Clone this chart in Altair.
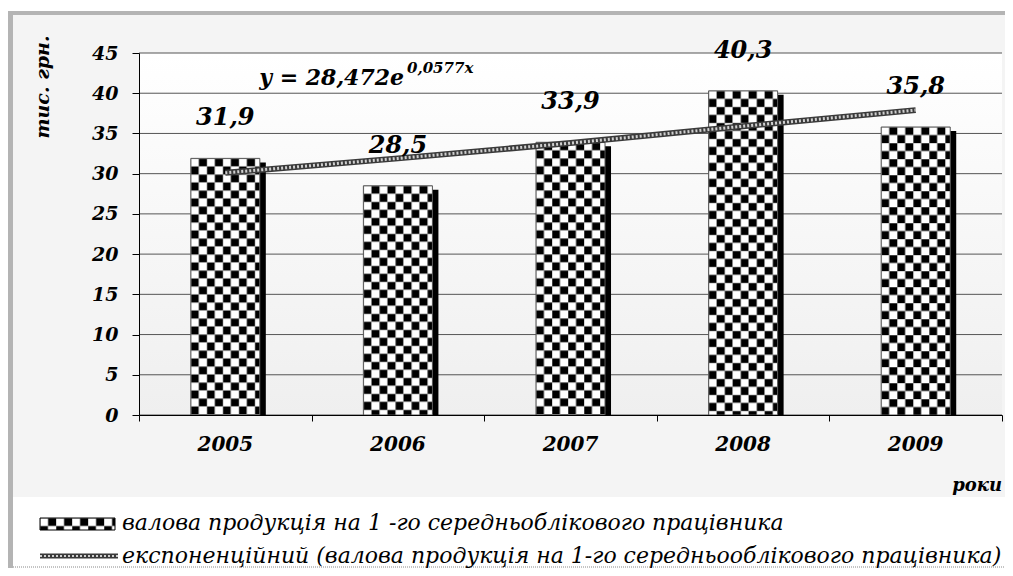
import altair as alt
import pandas as pd
import base64

# ---------------- data ----------------
years = ["2005", "2006", "2007", "2008", "2009"]
values = [31.9, 28.5, 33.9, 40.3, 35.8]
value_labels = ["31,9", "28,5", "33,9", "40,3", "35,8"]
trend_values = [30.1, 31.9, 33.8, 35.9, 37.9]
y_ticks = [0, 5, 10, 15, 20, 25, 30, 35, 40, 45]
x_bounds = [0, 1, 2, 3, 4, 5]

legend_bar = "валова продукція на 1 -го середньоблікового працівника"
legend_trend = "експоненційний (валова продукція на 1-го середньооблікового працівника)"
y_title = "тис. грн."
x_title = "роки"
eq_main = "y = 28,472e"
eq_sup = "0,0577x"

df = pd.DataFrame({
    "idx": list(range(len(years))),
    "year": years,
    "value": values,
    "label": value_labels,
    "trend": trend_values,
})
ticks_df = pd.DataFrame({"tick": y_ticks})
one = pd.DataFrame({"k": [0]})

# ---------------- layout ----------------
W, H = 863, 362
FONT = "DejaVu Serif"

checker_svg = (
    "<svg xmlns='http://www.w3.org/2000/svg' width='100%' height='100%'>"
    "<defs><pattern id='p' x='0' y='0' width='16' height='16' patternUnits='userSpaceOnUse'>"
    "<rect width='16' height='16' fill='#ffffff'/>"
    "<rect x='8' y='0' width='8' height='8' fill='#000000'/>"
    "<rect x='0' y='8' width='8' height='8' fill='#000000'/>"
    "<path d='M0 0H16M0 8H16M0 0V16M8 0V16' stroke='#9a9a9a' stroke-width='0.8'/>"
    "</pattern></defs>"
    "<rect width='100%' height='100%' fill='url(#p)'/></svg>"
)
checker_uri = "data:image/svg+xml;base64," + base64.b64encode(checker_svg.encode("utf-8")).decode("ascii")

xscale = alt.Scale(domain=[0, 5], nice=False, zero=False)
yscale = alt.Scale(domain=[0, 45], nice=False, zero=True)
xaxis = alt.Axis(values=x_bounds, labels=False, title=None, grid=False, tickSize=6,
                 domainColor="black", tickColor="black", domainWidth=1, tickWidth=1, zindex=1)
yaxis = alt.Axis(values=y_ticks, title=None, grid=False, tickSize=7, domainColor="black",
                 tickColor="black", labelFont=FONT, labelFontSize=19, labelFontWeight="bold",
                 labelFontStyle="italic", labelColor="black", labelPadding=14, zindex=1)


def X(f):
    return alt.X(f, type="quantitative", scale=xscale, axis=xaxis)


def Y(f):
    return alt.Y(f, type="quantitative", scale=yscale, axis=yaxis)


base = alt.Chart(df).transform_calculate(
    pos="datum.idx + 0.5", left="datum.idx + 0.3", right="datum.idx + 0.7"
)

# backgrounds and frame
outer_bg = alt.Chart(one).mark_rect(fill="#f4f4f4").encode(
    x=alt.value(-126), x2=alt.value(W + 4), y=alt.value(-38), y2=alt.value(444))
left_strip = alt.Chart(one).mark_rect(fill="#b4b4b4").encode(
    x=alt.value(-131), x2=alt.value(-126), y=alt.value(-42), y2=alt.value(515))
top_strip = alt.Chart(one).mark_rect(fill="#b4b4b4").encode(
    x=alt.value(-131), x2=alt.value(W + 4), y=alt.value(-42), y2=alt.value(-38))
bottom_line = alt.Chart(one).mark_rule(color="#888888", strokeDash=[1, 1], strokeWidth=1).encode(
    x=alt.value(-126), x2=alt.value(W + 4), y=alt.value(514))
plot_bg = alt.Chart(one).mark_rect(
    fill=alt.Gradient(gradient="linear", x1=0, x2=0, y1=0, y2=1,
                      stops=[alt.GradientStop(color="#ffffff", offset=0),
                             alt.GradientStop(color="#efefef", offset=1)])
).encode(x=alt.value(0), x2=alt.value(W), y=alt.value(0), y2=alt.value(H))

grid = alt.Chart(ticks_df).mark_rule(color="#555555", strokeWidth=1).encode(
    y=Y("tick"), x=alt.value(0), x2=alt.value(W))

# bars
shadow = base.mark_rect(fill="black", xOffset=6, x2Offset=6, yOffset=4).encode(
    x=X("left"), x2="right:Q", y=Y("value"), y2=alt.datum(0))
bar_white = base.mark_rect(fill="white").encode(
    x=X("left"), x2="right:Q", y=Y("value"), y2=alt.datum(0))
bar_img = base.mark_image(aspect=False).encode(
    x=X("left"), x2="right:Q", y=Y("value"), y2=alt.datum(0), url=alt.value(checker_uri))
bar_edge = base.mark_rect(fillOpacity=0, stroke="#555555", strokeWidth=1).encode(
    x=X("left"), x2="right:Q", y=Y("value"), y2=alt.datum(0))

# trend line
trend_dark = base.mark_line(color="#3a3a3a", strokeWidth=6).encode(x=X("pos"), y=Y("trend"))
trend_light = base.mark_line(color="#cfcfcf", strokeWidth=3, strokeDash=[2, 2]).encode(
    x=X("pos"), y=Y("trend"))

# texts
val_text = base.mark_text(font=FONT, fontSize=24, fontWeight="bold", fontStyle="italic",
                          color="black", dy=-40, baseline="middle").encode(
    x=X("pos"), y=Y("value"), text="label:N")

year_text = base.mark_text(font=FONT, fontSize=20, fontWeight="bold", fontStyle="italic",
                           color="black", baseline="middle").encode(
    x=X("pos"), y=alt.value(H + 30), text="year:N")

eq1 = alt.Chart(one).mark_text(font=FONT, fontSize=22, fontWeight="bold", fontStyle="italic",
                               align="right", baseline="alphabetic", color="black").encode(
    x=alt.value(265), y=alt.value(32), text=alt.value(eq_main))
eq2 = alt.Chart(one).mark_text(font=FONT, fontSize=15, fontWeight="bold", fontStyle="italic",
                               align="left", baseline="alphabetic", color="black").encode(
    x=alt.value(268), y=alt.value(20), text=alt.value(eq_sup))

ytitle = alt.Chart(one).mark_text(font=FONT, fontSize=19, fontWeight="bold", fontStyle="italic",
                                  angle=270, align="center", baseline="middle", color="black").encode(
    x=alt.value(-96), y=alt.value(34), text=alt.value(y_title))

xtitle = alt.Chart(one).mark_text(font=FONT, fontSize=18, fontWeight="bold", fontStyle="italic",
                                  align="right", baseline="alphabetic", color="black").encode(
    x=alt.value(W), y=alt.value(438), text=alt.value(x_title))

# legend
leg1_img = alt.Chart(one).mark_image(aspect=False).encode(
    x=alt.value(-99), x2=alt.value(-24), y=alt.value(465), y2=alt.value(477),
    url=alt.value(checker_uri))
leg1_edge = alt.Chart(one).mark_rect(fillOpacity=0, stroke="black", strokeWidth=1).encode(
    x=alt.value(-99), x2=alt.value(-24), y=alt.value(465), y2=alt.value(477))
leg1_text = alt.Chart(one).mark_text(font=FONT, fontSize=22, fontStyle="italic", align="left",
                                     baseline="middle", color="black").encode(
    x=alt.value(-17), y=alt.value(470), text=alt.value(legend_bar))
leg2_dark = alt.Chart(one).mark_rule(color="#3a3a3a", strokeWidth=5).encode(
    x=alt.value(-99), x2=alt.value(-21), y=alt.value(503))
leg2_light = alt.Chart(one).mark_rule(color="#cfcfcf", strokeWidth=2, strokeDash=[2, 2]).encode(
    x=alt.value(-99), x2=alt.value(-21), y=alt.value(503))
leg2_text = alt.Chart(one).mark_text(font=FONT, fontSize=22, fontStyle="italic", align="left",
                                     baseline="middle", color="black").encode(
    x=alt.value(-17), y=alt.value(503), text=alt.value(legend_trend))

chart = alt.layer(
    outer_bg, left_strip, top_strip, bottom_line, plot_bg, grid,
    shadow, bar_white, bar_img, bar_edge, trend_dark, trend_light,
    val_text, year_text, eq1, eq2, ytitle, xtitle,
    leg1_img, leg1_edge, leg1_text, leg2_dark, leg2_light, leg2_text,
).properties(
    width=W, height=H,
    autosize=alt.AutoSizeParams(type="none"),
    padding={"left": 131, "top": 45, "right": 3, "bottom": 153},
    background="white",
).configure_view(stroke=None)

chart.save("out.html", embed_options={"renderer": "svg", "actions": False})
